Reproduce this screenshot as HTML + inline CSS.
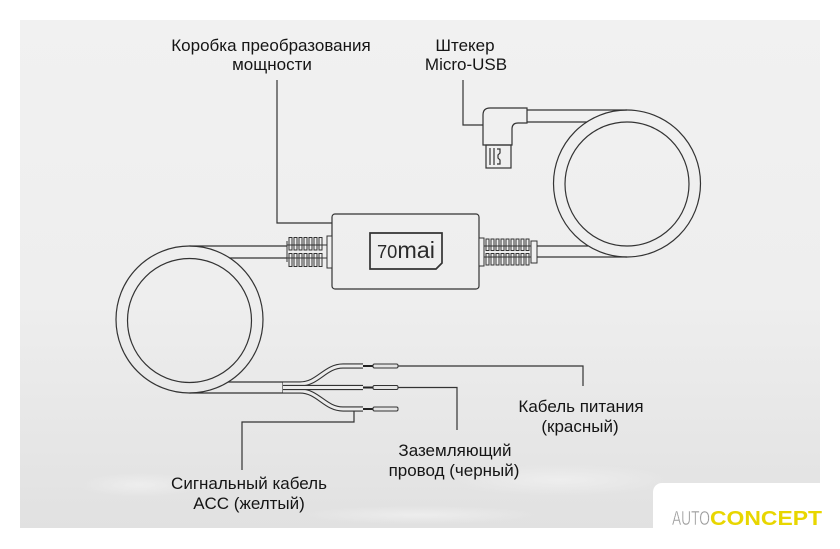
<!DOCTYPE html>
<html>
<head>
<meta charset="utf-8">
<style>
  html,body{margin:0;padding:0;background:#ffffff;}
  body{width:840px;height:549px;overflow:hidden;}
  svg{display:block;}
  .lbl{font-family:"Liberation Sans","DejaVu Sans",sans-serif;font-size:17px;fill:#151515;text-anchor:middle;}
</style>
</head>
<body>
<svg width="840" height="549" viewBox="0 0 840 549" xmlns="http://www.w3.org/2000/svg">
  <defs>
    <linearGradient id="bg" x1="0" y1="0" x2="0" y2="1">
      <stop offset="0" stop-color="#f1f1f1"/>
      <stop offset="0.55" stop-color="#eeeeee"/>
      <stop offset="0.8" stop-color="#e7e7e7"/>
      <stop offset="1" stop-color="#e1e1e1"/>
    </linearGradient>
    <radialGradient id="spot" cx="0.5" cy="0.5" r="0.5">
      <stop offset="0" stop-color="#f2f2f2" stop-opacity="0.7"/>
      <stop offset="1" stop-color="#f2f2f2" stop-opacity="0"/>
    </radialGradient>
  </defs>

  <!-- panel -->
  <rect x="20" y="20" width="800" height="508" fill="url(#bg)"/>
  <ellipse cx="140" cy="485" rx="60" ry="12" fill="url(#spot)"/>
  <ellipse cx="560" cy="480" rx="110" ry="16" fill="url(#spot)"/>
  <ellipse cx="420" cy="515" rx="120" ry="9" fill="url(#spot)"/>
  <!-- white notch bottom-right -->
  <rect x="653" y="483" width="220" height="90" rx="9" fill="#ffffff"/>

  <g fill="none" stroke="#333" stroke-width="1.2">
    <!-- leader lines -->
    <polyline points="277,80 277,223 332,223"/>
    <polyline points="463,80 463,125 483,125"/>
    <polyline points="398,366 583,366 583,386"/>
    <polyline points="398,387.5 457,387.5 457,430"/>
    <polyline points="354,409 354,422 242,422 242,470"/>

    <!-- right coil -->
    <circle cx="627" cy="183.5" r="73.5"/>
    <circle cx="627" cy="184" r="62"/>
    <line x1="527" y1="110" x2="627" y2="110"/>
    <line x1="527" y1="122" x2="587" y2="122"/>
    <line x1="537" y1="257" x2="627" y2="257"/>
    <line x1="537" y1="246" x2="588" y2="246"/>

    <!-- left coil -->
    <circle cx="189.5" cy="319.5" r="73.5"/>
    <circle cx="189.5" cy="320.5" r="62"/>
    <line x1="287" y1="246" x2="189.5" y2="246"/>
    <line x1="287" y1="258" x2="229.7" y2="258"/>
    <line x1="189.5" y1="393" x2="283" y2="393"/>
    <line x1="228" y1="382" x2="283" y2="382"/>
    <line x1="283" y1="382" x2="283" y2="393"/>

    <!-- box -->
    <rect x="332" y="214" width="147" height="75" rx="3"/>
    <path d="M370,233 H442 V263 L436,269 H370 Z" stroke-width="1.7"/>

    <!-- micro usb connector -->
    <path d="M483,115 Q483,108 490,108 H527 V123 H518 Q512,123 512,129 V145 H483 Z"/>
    <rect x="486" y="145" width="25" height="23"/>
    <line x1="490" y1="148" x2="490" y2="165"/>
    <line x1="494" y1="148" x2="494" y2="165"/>
    <path d="M497,149 H500 V153 L498,155 V158 L500,160 V164 H497"/>
  </g>

  <!-- strain reliefs -->
  <g fill="#f0f0f0" stroke="#333" stroke-width="1">
    <rect x="327" y="236" width="5" height="32"/>
    <rect x="289" y="237.5" width="3" height="12.5"/>
    <rect x="294" y="237.5" width="3" height="12.5"/>
    <rect x="299" y="237.5" width="3" height="12.5"/>
    <rect x="304" y="237.5" width="3" height="12.5"/>
    <rect x="309" y="237.5" width="3" height="12.5"/>
    <rect x="314" y="237.5" width="3" height="12.5"/>
    <rect x="319" y="237.5" width="3" height="12.5"/>
    <rect x="289" y="253.5" width="3" height="13"/>
    <rect x="294" y="253.5" width="3" height="13"/>
    <rect x="299" y="253.5" width="3" height="13"/>
    <rect x="304" y="253.5" width="3" height="13"/>
    <rect x="309" y="253.5" width="3" height="13"/>
    <rect x="314" y="253.5" width="3" height="13"/>
    <rect x="319" y="253.5" width="3" height="13"/>
    <line x1="287" y1="245" x2="327" y2="245"/>
    <line x1="287" y1="258" x2="327" y2="258"/>
    <line x1="287" y1="241" x2="287" y2="262"/>

    <rect x="479" y="238" width="5" height="28"/>
    <rect x="486" y="239" width="3" height="11.5"/>
    <rect x="491" y="239" width="3" height="11.5"/>
    <rect x="496" y="239" width="3" height="11.5"/>
    <rect x="501" y="239" width="3" height="11.5"/>
    <rect x="506" y="239" width="3" height="11.5"/>
    <rect x="511" y="239" width="3" height="11.5"/>
    <rect x="516" y="239" width="3" height="11.5"/>
    <rect x="521" y="239" width="3" height="11.5"/>
    <rect x="526" y="239" width="3" height="11.5"/>
    <rect x="486" y="253.5" width="3" height="11.5"/>
    <rect x="491" y="253.5" width="3" height="11.5"/>
    <rect x="496" y="253.5" width="3" height="11.5"/>
    <rect x="501" y="253.5" width="3" height="11.5"/>
    <rect x="506" y="253.5" width="3" height="11.5"/>
    <rect x="511" y="253.5" width="3" height="11.5"/>
    <rect x="516" y="253.5" width="3" height="11.5"/>
    <rect x="521" y="253.5" width="3" height="11.5"/>
    <rect x="526" y="253.5" width="3" height="11.5"/>
    <rect x="531" y="241" width="6" height="22"/>
    <line x1="484" y1="246" x2="531" y2="246"/>
    <line x1="484" y1="257" x2="531" y2="257"/>
  </g>

  <!-- wires: dark outer stroke + light inner -->
  <g fill="none" stroke-linecap="butt">
    <path d="M283,384 L300,384 C318,384 325,366 343,366 L363,366" stroke="#333" stroke-width="5.2"/>
    <path d="M283,384 L300,384 C318,384 325,366 343,366 L363,366" stroke="#ececec" stroke-width="3"/>
    <path d="M283,391 L300,391 C318,391 325,409 343,409 L363,409" stroke="#333" stroke-width="5.2"/>
    <path d="M283,391 L300,391 C318,391 325,409 343,409 L363,409" stroke="#ececec" stroke-width="3"/>
    <path d="M283,387.5 L363,387.5" stroke="#333" stroke-width="5.2"/>
    <path d="M283,387.5 L363,387.5" stroke="#ececec" stroke-width="3"/>
    <!-- conductors -->
    <line x1="363" y1="366" x2="374" y2="366" stroke="#222" stroke-width="2"/>
    <line x1="363" y1="387.5" x2="374" y2="387.5" stroke="#222" stroke-width="2"/>
    <line x1="363" y1="409" x2="374" y2="409" stroke="#222" stroke-width="2"/>
  </g>
  <g fill="#e4e4e4" stroke="#333" stroke-width="1">
    <rect x="373" y="364" width="25" height="4" rx="1.5"/>
    <rect x="373" y="385.5" width="25" height="4" rx="1.5"/>
    <rect x="373" y="407" width="25" height="4" rx="1.5"/>
  </g>

  <!-- logo -->
  <text x="377" y="258" font-family="'Liberation Sans',sans-serif" fill="#2a2a2a" textLength="58" lengthAdjust="spacingAndGlyphs"><tspan font-size="18">70</tspan><tspan font-size="23">mai</tspan></text>

  <!-- labels -->
  <text class="lbl" x="271" y="51">Коробка преобразования</text>
  <text class="lbl" x="272" y="70">мощности</text>
  <text class="lbl" x="465" y="51">Штекер</text>
  <text class="lbl" x="466" y="70">Micro-USB</text>
  <text class="lbl" x="581" y="412">Кабель питания</text>
  <text class="lbl" x="580" y="432">(красный)</text>
  <text class="lbl" x="455" y="456">Заземляющий</text>
  <text class="lbl" x="454" y="476">провод (черный)</text>
  <text class="lbl" x="249" y="489">Сигнальный кабель</text>
  <text class="lbl" x="249" y="509">ACC (желтый)</text>

  <!-- watermark -->
  <text x="672" y="525" font-family="'Liberation Sans',sans-serif" font-size="20" fill="#9a9a9a" stroke="#ffffff" stroke-width="0.4" textLength="38" lengthAdjust="spacingAndGlyphs">AUTO</text>
  <text x="710" y="525" font-family="'Liberation Sans',sans-serif" font-size="20" font-weight="bold" fill="#e8d600" textLength="112" lengthAdjust="spacingAndGlyphs">CONCEPT</text>
</svg>
</body>
</html>
